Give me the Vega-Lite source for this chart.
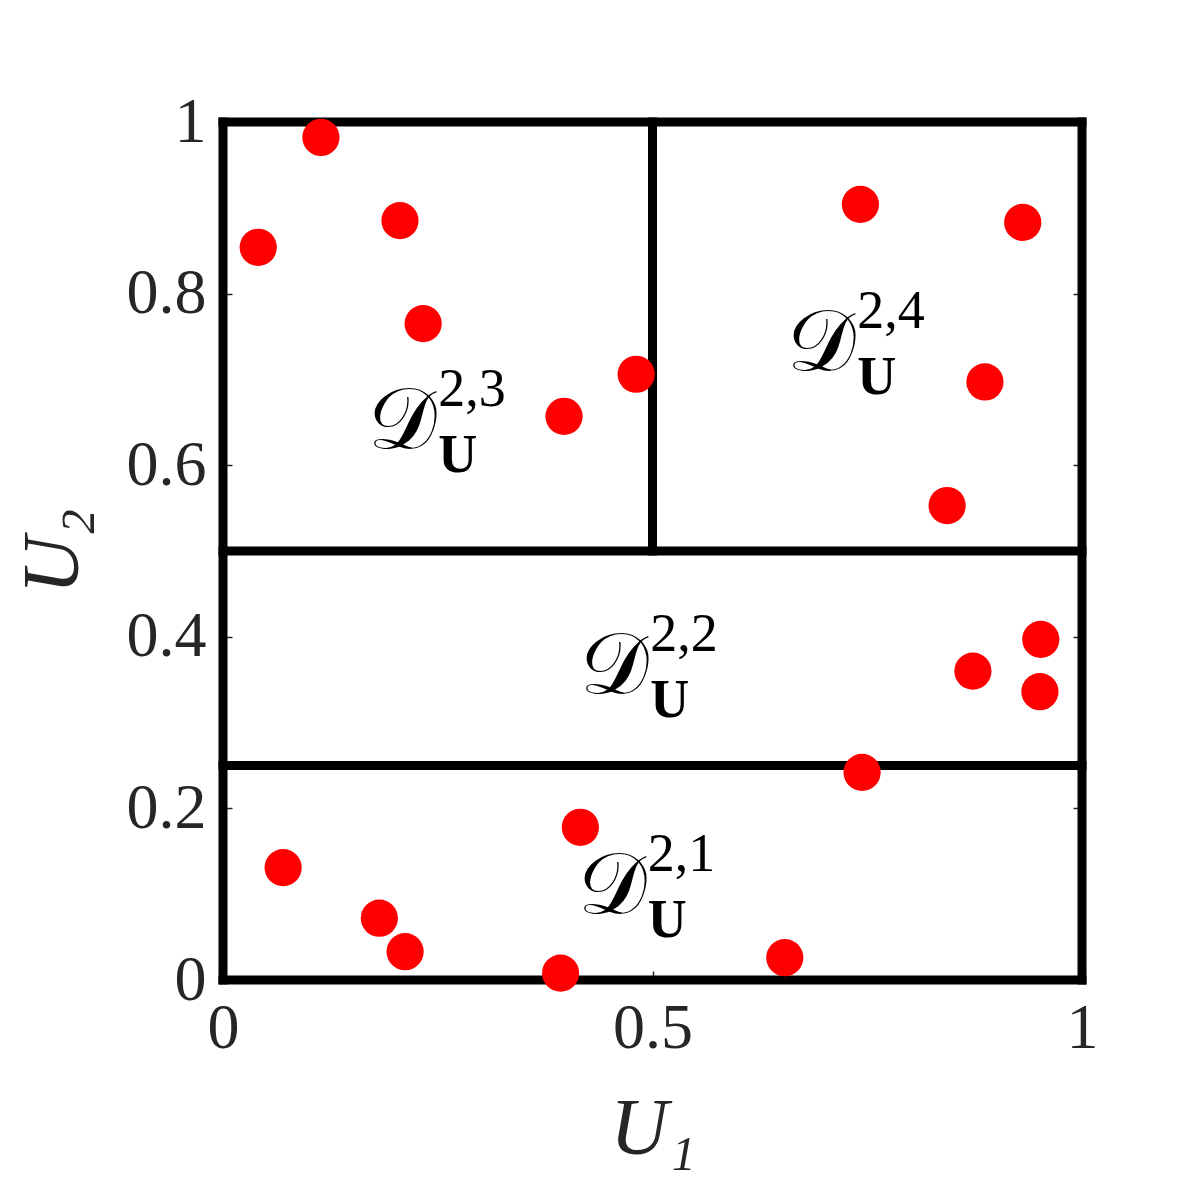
{
  "$schema": "https://vega.github.io/schema/vega-lite/v6.json",
  "width": 859,
  "height": 858,
  "autosize": {"type": "none"},
  "padding": {"left": 223, "top": 122, "right": 114, "bottom": 216},
  "background": "white",
  "config": {
    "view": {"stroke": null},
    "axis": {
      "grid": false,
      "domain": false,
      "ticks": true,
      "tickSize": -9,
      "tickWidth": 1.5,
      "tickColor": "#262626",
      "labelFlush": false,
      "labelOverlap": false,
      "labelFont": "Liberation Serif",
      "labelFontSize": 64,
      "labelColor": "#262626",
      "titleFont": "Liberation Serif",
      "titleFontSize": 80,
      "titleFontWeight": "normal",
      "titleFontStyle": "italic",
      "titleColor": "#262626"
    }
  },
  "datasets": {
    "frame": [
      {"x": 0, "y": 0, "x2": 1, "y2": 0},
      {"x": 0, "y": 1, "x2": 1, "y2": 1},
      {"x": 0, "y": 0, "x2": 0, "y2": 1},
      {"x": 1, "y": 0, "x2": 1, "y2": 1},
      {"x": 0, "y": 0.5, "x2": 1, "y2": 0.5},
      {"x": 0, "y": 0.25, "x2": 1, "y2": 0.25},
      {"x": 0.5, "y": 0.5, "x2": 0.5, "y2": 1}
    ],
    "points": [
      {"u1": 0.114, "u2": 0.982},
      {"u1": 0.041, "u2": 0.854},
      {"u1": 0.206, "u2": 0.885},
      {"u1": 0.233, "u2": 0.765},
      {"u1": 0.481, "u2": 0.706},
      {"u1": 0.397, "u2": 0.657},
      {"u1": 0.742, "u2": 0.904},
      {"u1": 0.931, "u2": 0.883},
      {"u1": 0.887, "u2": 0.697},
      {"u1": 0.843, "u2": 0.553},
      {"u1": 0.952, "u2": 0.397},
      {"u1": 0.873, "u2": 0.360},
      {"u1": 0.951, "u2": 0.336},
      {"u1": 0.744, "u2": 0.242},
      {"u1": 0.416, "u2": 0.178},
      {"u1": 0.070, "u2": 0.131},
      {"u1": 0.182, "u2": 0.072},
      {"u1": 0.212, "u2": 0.033},
      {"u1": 0.393, "u2": 0.008},
      {"u1": 0.654, "u2": 0.026}
    ],
    "labels": [
      {"x": 0.169, "y": 0.620, "sup": "2,3"},
      {"x": 0.657, "y": 0.711, "sup": "2,4"},
      {"x": 0.416, "y": 0.334, "sup": "2,2"},
      {"x": 0.413, "y": 0.078, "sup": "2,1"}
    ]
  },
  "resolve": {"axis": {"x": "independent", "y": "independent"}},
  "layer": [
    {
      "data": {"name": "frame"},
      "mark": {"type": "rule", "stroke": "black", "strokeWidth": 9, "strokeCap": "square"},
      "encoding": {
        "x": {"field": "x", "type": "quantitative", "scale": {"domain": [0, 1], "nice": false},
          "axis": {"orient": "bottom", "values": [0, 0.5, 1], "labelExpr": "'' + datum.value", "labelPadding": 25, "title": "U₁", "titlePadding": 30}},
        "x2": {"field": "x2"},
        "y": {"field": "y", "type": "quantitative", "scale": {"domain": [0, 1], "nice": false},
          "axis": {"orient": "left", "values": [0, 0.2, 0.4, 0.6, 0.8, 1], "labelExpr": "'' + datum.value", "labelPadding": 26, "title": "U₂", "titlePadding": 32}},
        "y2": {"field": "y2"}
      }
    },
    {
      "data": {"name": "points"},
      "mark": {"type": "circle", "color": "#ff0000", "opacity": 1, "size": 1385},
      "encoding": {
        "x": {"field": "u1", "type": "quantitative", "scale": {"domain": [0, 1], "nice": false},
          "axis": {"orient": "top", "values": [0, 0.5, 1], "labels": false, "title": null}},
        "y": {"field": "u2", "type": "quantitative", "scale": {"domain": [0, 1], "nice": false},
          "axis": {"orient": "right", "values": [0, 0.2, 0.4, 0.6, 0.8, 1], "labels": false, "title": null}}
      }
    },
    {
      "data": {"name": "labels"},
      "mark": {"type": "text", "text": "𝒟", "font": "Liberation Serif", "fontSize": 86, "align": "left", "baseline": "alphabetic", "color": "black"},
      "encoding": {
        "x": {"field": "x", "type": "quantitative", "scale": {"domain": [0, 1], "nice": false}, "axis": null},
        "y": {"field": "y", "type": "quantitative", "scale": {"domain": [0, 1], "nice": false}, "axis": null}
      }
    },
    {
      "data": {"name": "labels"},
      "mark": {"type": "text", "font": "Liberation Serif", "fontSize": 54, "align": "left", "baseline": "alphabetic", "dx": 70, "dy": -42, "color": "black"},
      "encoding": {
        "x": {"field": "x", "type": "quantitative", "scale": {"domain": [0, 1], "nice": false}, "axis": null},
        "y": {"field": "y", "type": "quantitative", "scale": {"domain": [0, 1], "nice": false}, "axis": null},
        "text": {"field": "sup"}
      }
    },
    {
      "data": {"name": "labels"},
      "mark": {"type": "text", "text": "U", "font": "Liberation Serif", "fontSize": 54, "fontWeight": "bold", "align": "left", "baseline": "alphabetic", "dx": 70, "dy": 24, "color": "black"},
      "encoding": {
        "x": {"field": "x", "type": "quantitative", "scale": {"domain": [0, 1], "nice": false}, "axis": null},
        "y": {"field": "y", "type": "quantitative", "scale": {"domain": [0, 1], "nice": false}, "axis": null}
      }
    }
  ]
}
